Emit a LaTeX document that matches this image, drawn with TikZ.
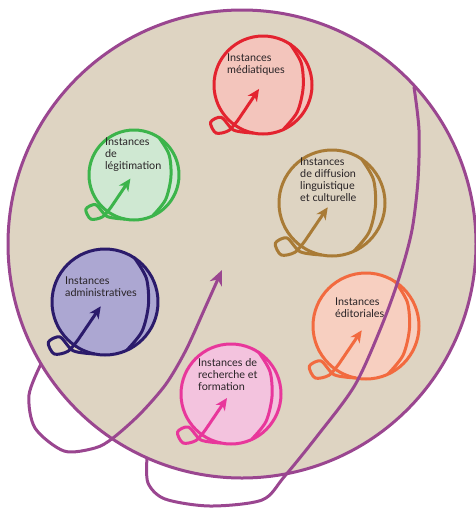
\documentclass[tikz,border=0pt]{standalone}
\usepackage{fontspec}
\setmainfont{Lato}
\usepackage{tikz}
\usetikzlibrary{arrows.meta}
\definecolor{fond}{RGB}{222,212,194}
\definecolor{violet}{RGB}{154,70,144}
\definecolor{encre}{RGB}{40,35,38}
\definecolor{traitrouge}{RGB}{227,35,47}
\definecolor{fondrouge}{RGB}{243,197,188}
\definecolor{traitvert}{RGB}{60,180,75}
\definecolor{fondvert}{RGB}{207,232,210}
\definecolor{traitbrun}{RGB}{169,123,54}
\definecolor{traitmarine}{RGB}{43,27,107}
\definecolor{fondmarine}{RGB}{172,167,210}
\definecolor{traitorange}{RGB}{242,106,63}
\definecolor{fondorange}{RGB}{247,207,192}
\definecolor{traitrose}{RGB}{232,55,155}
\definecolor{fondrose}{RGB}{243,195,222}
\tikzset{
  trait/.style={line width=3pt, line cap=round, line join=round},
  fleche/.style={trait, -{Stealth[length=12pt, width=11pt, inset=3.5pt]}},
  texte/.style={font=\fontsize{10.8}{12}\selectfont, text=encre, align=left, inner sep=0pt, anchor=north west}
}

\begin{document}
\begin{tikzpicture}[x=1pt, y=-1pt]
  \useasboundingbox (0,0) rectangle (475,509);
  % grand cercle
  \draw[trait, violet, fill=fond] (242,244) circle (234);
  % instances
  \foreach \name/\cx/\cy/\r/\tr/\remp/\tx/\ty/\texte [count=\i] in {
      mediatiques/263/85/49/traitrouge/fondrouge/227/54/{Instances\\médiatiques},
      legitimation/134/175/45/traitvert/fondvert/105/138/{Instances\\de\\légitimation},
      diffusion/332/203/53/traitbrun/fond/300/158/{Instances\\de diffusion\\linguistique\\et culturelle},
      administratives/105/302/53/traitmarine/fondmarine/65/277/{Instances\\administratives},
      editoriales/366/326/53/traitorange/fondorange/335/298/{Instances\\éditoriales},
      recherche/231/394/50/traitrose/fondrose/198/358/{Instances de\\recherche et\\formation}}{
    \begin{scope}[shift={(\cx,\cy)}, scale=\r]
      \draw[trait, \tr, fill=\remp] (0,0) circle (1);
      \draw[trait, \tr] plot[smooth] coordinates {(0.55,-0.84) (0.78,-0.45) (0.82,0.05) (0.7,0.55) (0.42,0.9)};
      \draw[fleche, \tr] plot[smooth] coordinates {(-0.2,0.98) (-0.6,0.92) (-0.85,0.66) (-1.07,0.76) (-0.96,0.98) (-0.7,0.93) (-0.5,0.7)} -- (-0.08,0.08);
    \end{scope}
    \node[texte] (\name) at (\tx,\ty) {\texte};
  }
  % meridien et fleche du grand cercle
  \draw[trait, violet] plot[smooth] coordinates {(414,87) (419,130) (418,180) (412,230) (400,275) (382,325) (355,385) (318,435) (284,477) (262,500) (210,506) (165,499) (148,483) (147,458)};
  \draw[trait, violet, -{Stealth[length=15pt, width=13pt, inset=4.5pt]}] plot[smooth] coordinates {(41,364) (29,395) (35,428) (64,451) (95,448) (113,438) (140,414) (166,384) (186,350) (205,308) (222,270)};
\end{tikzpicture}
\end{document}
